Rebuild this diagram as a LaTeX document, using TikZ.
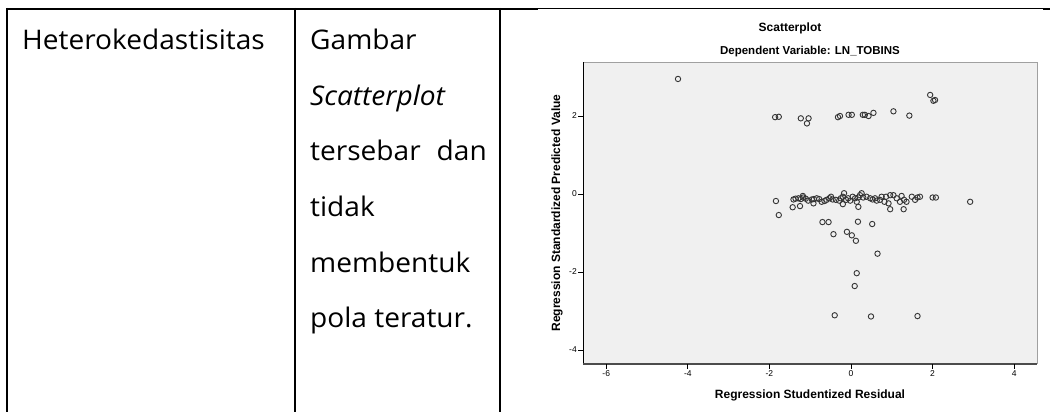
\documentclass[tikz,border=0pt]{standalone}
\usepackage{fontspec}
\setmainfont{Open Sans}[FakeStretch = 1.04]
\newfontfamily\plotfont{Liberation Sans}
\definecolor{plotbg}{HTML}{F0F0F0}
\definecolor{plotedge}{HTML}{A0A0A0}
\definecolor{dotgray}{HTML}{353535}
\tikzset{
    cell/.style = {anchor = base west, inner sep = 0pt, font = \fontsize{27}{27}\selectfont},
    rule/.style = {line width = 2pt},
    ticktext/.style = {font = \plotfont\fontsize{8.5}{8.5}\selectfont, inner sep = 1pt},
    plottitle/.style = {font = \plotfont\bfseries\fontsize{12}{12}\selectfont, inner sep = 0pt},
    dot/.style = {draw = dotgray, line width = 0.9pt}
}
\begin{document}
\begin{tikzpicture}[x = 1pt, y = -1pt]
        \useasboundingbox (0, 0) rectangle (1050, 412);
        % table rules
        \draw [rule] (6, 9) -- (538, 9);
        \draw [line width = 1pt] (538, 8.3) -- (1043, 8.3);
        \draw [rule] (1043, 9.5) -- (1050, 9.5);
        \draw [rule] (7.3, 8) -- (7.3, 412);
        \draw [rule] (295.3, 8) -- (295.3, 412);
        \draw [rule] (500, 8) -- (500, 412);
        % left cells
        \node [cell] (uji) at (22, 50) {Heterokedastisitas};
        \node [cell] (gambar) at (310, 50) {Gambar};
        \node [cell] (scatter) at (310, 105.5) {\itshape Scatterplot};
        \node [cell] (sebar) at (310, 160) {tersebar};
        \node [cell, anchor = base east] (dan) at (487, 160) {dan};
        \node [cell] (tidak) at (310, 216.5) {tidak};
        \node [cell] (bentuk) at (310, 272) {membentuk};
        \node [cell] (pola) at (310, 327) {pola teratur.};
        % scatterplot
        \node [plottitle] (judul) at (790, 28) {Scatterplot};
        \node [plottitle, font = \plotfont\bfseries\fontsize{11.5}{12}\selectfont] (dependen) at (810, 52) {Dependent Variable: LN\_TOBINS};
        \node [plottitle] (xjudul) at (810, 395) {Regression Studentized Residual};
        \node [plottitle, rotate = 90] (yjudul) at (557, 213) {Regression Standardized Predicted Value};
        \begin{scope}[shift = {(851, 194)}, x = 40.8pt, y = 39pt]
            \fill [plotbg] (-6.57, -4.36) rectangle (4.56, 3.38);
            \draw [plotedge, line width = 1pt] (-6.57, 3.38) -- (4.56, 3.38) -- (4.56, -4.36);
            \draw [line width = 0.8pt] (-6.57, 3.38) -- (-6.57, -4.36);
            \draw [line width = 1.2pt, black!70] (-6.57, -4.36) -- (4.56, -4.36);
            \foreach \t in {-6, -4, ..., 4}
            {
                \draw [line width = 0.8pt] (\t, -4.36) -- ++(0, -5pt);
                \node [ticktext, below] at (\t, -4.36) [yshift = -5pt] {\t};
            }
            \foreach \t in {2, 0, -2, -4}
            {
                \draw [line width = 0.8pt] (-6.57, \t) -- ++(-5pt, 0);
                \node [ticktext, left] at (-6.57, \t) [xshift = -5pt] {\t};
            }
            \foreach \px/\py in {
                -4.24/2.95,
                -1.86/1.97, -1.77/1.98, -1.23/1.94, -1.04/1.94, -1.08/1.81,
                -0.32/1.97, -0.27/2.0, -0.06/2.03, 0.02/2.03, 0.29/2.03, 0.34/2.03,
                0.43/2.0, 0.55/2.08, 1.04/2.12, 1.43/2.01, 1.94/2.54, 2.02/2.39, 2.06/2.41,
                -1.84/-0.18, -1.41/-0.14, -1.36/-0.12, -1.29/-0.11, -1.23/-0.13,
                -1.17/-0.09, -1.11/-0.12, -1.18/-0.05, -1.05/-0.17, -0.96/-0.14,
                -0.91/-0.13, -0.84/-0.11, -0.78/-0.13, -0.72/-0.2, -0.65/-0.18,
                -0.6/-0.15, -0.53/-0.11, -0.49/-0.07, -0.45/-0.14, -0.37/-0.15,
                -0.29/-0.17, -0.25/-0.11, -0.2/-0.07, -0.17/0.02, -0.12/-0.15,
                -0.07/-0.11, -0.02/-0.17, 0.04/-0.07, 0.1/-0.11, 0.14/-0.2,
                0.18/-0.09, 0.22/-0.03, 0.26/0.02, 0.3/-0.09, 0.38/-0.07,
                0.47/-0.11, 0.53/-0.14, 0.59/-0.11, 0.63/-0.17, 0.71/-0.15,
                0.75/-0.07, 0.82/-0.2, 0.86/-0.07, 0.92/-0.24, 0.96/-0.03,
                1.04/-0.03, 1.12/-0.11, 1.2/-0.2, 1.24/-0.05, 1.3/-0.15,
                1.36/-0.2, 1.49/-0.07, 1.57/-0.15, 1.63/-0.09, 1.69/-0.07,
                2.0/-0.09, 2.08/-0.09, 2.92/-0.2,
                -1.43/-0.34, -1.25/-0.31, -0.92/-0.24, -0.2/-0.26, 0.18/-0.33,
                0.96/-0.39, 1.29/-0.39, -1.77/-0.54,
                -0.7/-0.72, -0.55/-0.72, 0.17/-0.71, 0.52/-0.77, -0.43/-1.03,
                -0.1/-0.97, 0.02/-1.06, 0.12/-1.2, 0.65/-1.53, 0.14/-2.03,
                0.09/-2.36, -0.4/-3.11, 0.49/-3.14, 1.63/-3.13}
                \draw [dot] (\px, \py) circle (2.7pt);
        \end{scope}
\end{tikzpicture}
\end{document}
